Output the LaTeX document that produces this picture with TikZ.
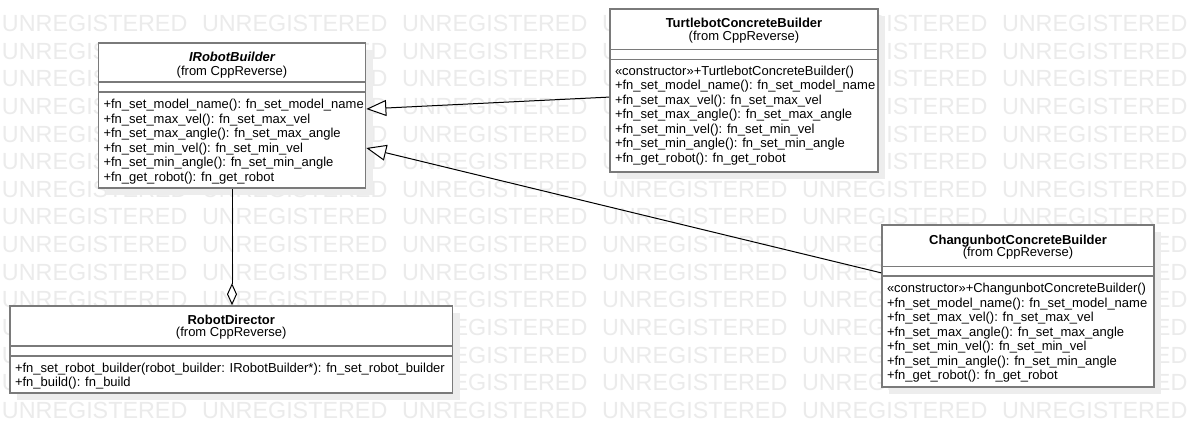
\documentclass[tikz,border=0pt]{standalone}
\usepackage{fontspec}
\setmainfont{Liberation Sans}
\usetikzlibrary{arrows.meta,fit,shadows}
\definecolor{wmc}{HTML}{EBEBEB}
\definecolor{shadowc}{HTML}{EDEDED}
\definecolor{borderc}{HTML}{7A7A7A}
\begin{document}
\begin{tikzpicture}[x=0.75pt,y=-0.75pt,
  wmark/.style={inner sep=0pt, outer sep=0pt, anchor=base west, text=wmc,
    font=\fontsize{17.5pt}{20pt}\selectfont},
  classbox/.style={draw=borderc, line width=1.2pt, fill=white, inner sep=0pt,
    drop shadow={shadow xshift=5.25pt, shadow yshift=-5.25pt, fill=shadowc, opacity=1}},
  sepline/.style={draw=borderc, line width=1.2pt},
  lbl/.style={inner sep=0pt, outer sep=0pt, text=black,
    font=\fontsize{9.75pt}{11pt}\selectfont},
  oprow/.style={lbl, anchor=base west},
  ttl/.style={lbl, anchor=base, font=\fontsize{9.75pt}{11pt}\selectfont\bfseries},
  pkg/.style={lbl, anchor=base},
  inh/.style={draw=black, line width=0.75pt,
    -{Triangle[length=15pt, width=12pt, fill=white, line width=0.75pt]}},
  aggr/.style={draw=black, line width=0.75pt,
    {Diamond[length=16.5pt, width=7.5pt, fill=white, line width=0.75pt]}-}
]
\useasboundingbox (0,0) rectangle (1194,433);
\fill[white] (0,0) rectangle (1194,433);

% watermark (words entirely hidden behind the RobotDirector box are left out)
\foreach \r in {0,...,14}{
  \foreach \c in {0,...,5}{
    \pgfmathtruncatemacro{\hidden}{(\c==1)&&(\r>10)&&(\r<14)}
    \ifnum\hidden=0
      \node[wmark] (wm-\r-\c) at ({2+200*\c},{31.5+27.64*\r}) {UNREGISTERED};
    \fi
  }
}

% ---- IRobotBuilder ----
\node[classbox, fit={(98.5,43) (365.5,188)}] (irb) {};
\draw[sepline] (irb.west |- 0,82) -- (irb.east |- 0,82);
\draw[sepline] (irb.west |- 0,92) -- (irb.east |- 0,92);
\node[ttl, font=\fontsize{9.75pt}{11pt}\selectfont\bfseries\itshape] (irbname) at (irb.center |- 0,61.5) {IRobotBuilder};
\node[pkg] (irbpkg) at (irb.center |- 0,75) {(from CppReverse)};
\foreach \t [count=\i] in {
  {+fn\_set\_model\_name(): fn\_set\_model\_name},
  {+fn\_set\_max\_vel(): fn\_set\_max\_vel},
  {+fn\_set\_max\_angle(): fn\_set\_max\_angle},
  {+fn\_set\_min\_vel(): fn\_set\_min\_vel},
  {+fn\_set\_min\_angle(): fn\_set\_min\_angle},
  {+fn\_get\_robot(): fn\_get\_robot}}{
  \node[oprow] (irbop\i) at (103.5,{94+14.5*\i}) {\t};
}

% ---- TurtlebotConcreteBuilder ----
\node[classbox, fit={(610,9) (878,172)}] (tcb) {};
\draw[sepline] (tcb.west |- 0,49.5) -- (tcb.east |- 0,49.5);
\draw[sepline] (tcb.west |- 0,59.5) -- (tcb.east |- 0,59.5);
\node[ttl] (tcbname) at (tcb.center |- 0,27.5) {TurtlebotConcreteBuilder};
\node[pkg] (tcbpkg) at (tcb.center |- 0,40) {(from CppReverse)};
\foreach \t [count=\i] in {
  {«constructor»+TurtlebotConcreteBuilder()},
  {+fn\_set\_model\_name(): fn\_set\_model\_name},
  {+fn\_set\_max\_vel(): fn\_set\_max\_vel},
  {+fn\_set\_max\_angle(): fn\_set\_max\_angle},
  {+fn\_set\_min\_vel(): fn\_set\_min\_vel},
  {+fn\_set\_min\_angle(): fn\_set\_min\_angle},
  {+fn\_get\_robot(): fn\_get\_robot}}{
  \node[oprow] (tcbop\i) at (615,{60.5+14.5*\i}) {\t};
}

% ---- ChangunbotConcreteBuilder ----
\node[classbox, fit={(882,225) (1154,387)}] (ccb) {};
\draw[sepline] (ccb.west |- 0,266.5) -- (ccb.east |- 0,266.5);
\draw[sepline] (ccb.west |- 0,276) -- (ccb.east |- 0,276);
\node[ttl] (ccbname) at (ccb.center |- 0,244) {ChangunbotConcreteBuilder};
\node[pkg] (ccbpkg) at (ccb.center |- 0,256.5) {(from CppReverse)};
\foreach \t [count=\i] in {
  {«constructor»+ChangunbotConcreteBuilder()},
  {+fn\_set\_model\_name(): fn\_set\_model\_name},
  {+fn\_set\_max\_vel(): fn\_set\_max\_vel},
  {+fn\_set\_max\_angle(): fn\_set\_max\_angle},
  {+fn\_set\_min\_vel(): fn\_set\_min\_vel},
  {+fn\_set\_min\_angle(): fn\_set\_min\_angle},
  {+fn\_get\_robot(): fn\_get\_robot}}{
  \node[oprow] (ccbop\i) at (887,{278+14.5*\i}) {\t};
}

% ---- RobotDirector ----
\node[classbox, fit={(10,306) (452.5,393)}] (rd) {};
\draw[sepline] (rd.west |- 0,346) -- (rd.east |- 0,346);
\draw[sepline] (rd.west |- 0,356) -- (rd.east |- 0,356);
\node[ttl] (rdname) at (rd.center |- 0,324) {RobotDirector};
\node[pkg] (rdpkg) at (rd.center |- 0,336.5) {(from CppReverse)};
\node[oprow] (rdop1) at (15,372) {+fn\_set\_robot\_builder(robot\_builder: IRobotBuilder*): fn\_set\_robot\_builder};
\node[oprow] (rdop2) at (15,386.5) {+fn\_build(): fn\_build};

% ---- connectors ----
\draw[inh] (tcb) -- (irb);
\draw[inh] (ccb) -- (irb);
\draw[aggr] (rd.north -| irb.south) -- (irb.south);
\end{tikzpicture}
\end{document}
